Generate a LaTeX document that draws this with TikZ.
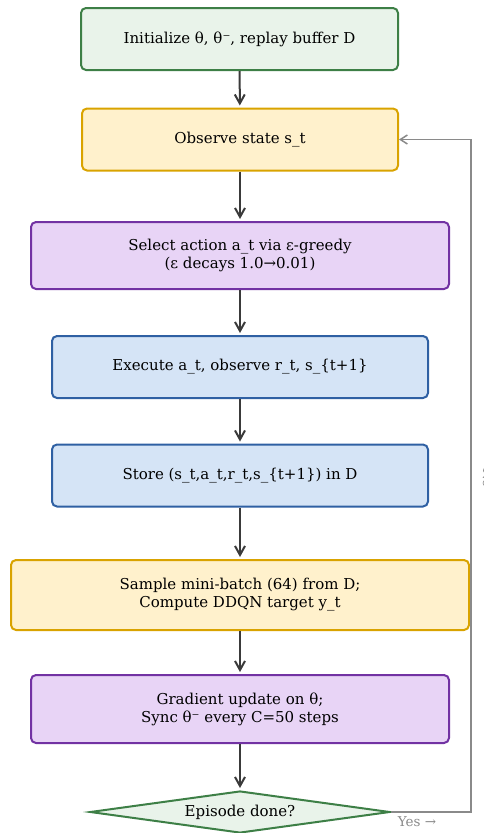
\documentclass[tikz,border=0pt]{standalone}
\usepackage{fontspec}
\setmainfont{DejaVu Serif}
\usetikzlibrary{shapes.geometric,arrows.meta}

\definecolor{initedge}{HTML}{3D7F46}
\definecolor{initfill}{HTML}{E9F3EA}
\definecolor{obsedge}{HTML}{D9A300}
\definecolor{obsfill}{HTML}{FFF1CC}
\definecolor{actedge}{HTML}{7232A3}
\definecolor{actfill}{HTML}{E8D4F6}
\definecolor{envedge}{HTML}{2F60A3}
\definecolor{envfill}{HTML}{D5E4F6}
\definecolor{flowgray}{HTML}{3A3A3A}
\definecolor{loopgray}{HTML}{8A8A8A}

\begin{document}
\begin{tikzpicture}[x=1pt, y=-1pt,
  font=\fontsize{15pt}{18pt}\selectfont,
  stepbox/.style={rectangle, rounded corners=5pt, line width=2pt, align=center, inner sep=0pt},
  greenbox/.style={stepbox, draw=initedge, fill=initfill},
  yellowbox/.style={stepbox, draw=obsedge, fill=obsfill},
  purplebox/.style={stepbox, draw=actedge, fill=actfill},
  bluebox/.style={stepbox, draw=envedge, fill=envfill},
  flow/.style={draw=flowgray, line width=2pt, shorten >=2pt, -{Straight Barb[length=9pt,width=10pt]}},
  loopback/.style={draw=loopgray, line width=1.5pt, -{Straight Barb[length=7pt,width=9pt]}}]

\useasboundingbox (0,0) rectangle (484,833);

%% boxes
\node[greenbox, minimum width=317pt, minimum height=62pt] (init) at (239.5,39)
  {Initialize θ, θ⁻, replay buffer D};
\node[yellowbox, minimum width=316pt, minimum height=62pt] (observe) at (240,139.5)
  {Observe state s\_t};
\node[purplebox, minimum width=418pt, minimum height=67pt] (select) at (240,255.5)
  {Select action a\_t via ε-greedy\\(ε decays 1.0→0.01)};
\node[bluebox, minimum width=376pt, minimum height=62pt] (execute) at (240,367)
  {Execute a\_t, observe r\_t, s\_\{t+1\}};
\node[bluebox, minimum width=376pt, minimum height=62pt] (store) at (240,475.5)
  {Store (s\_t,a\_t,r\_t,s\_\{t+1\}) in D};
\node[yellowbox, minimum width=458pt, minimum height=70pt] (sample) at (240,595)
  {Sample mini-batch (64) from D;\\Compute DDQN target y\_t};
\node[purplebox, minimum width=418pt, minimum height=68pt] (update) at (240,709)
  {Gradient update on θ;\\Sync θ⁻ every C=50 steps};
\node[diamond, draw=initedge, fill=initfill, line width=2pt, inner sep=0pt,
  shape aspect=7, minimum width=300pt, minimum height=42pt] (done) at (240,812)
  {Episode done?};

%% labels
\node[text=loopgray, rotate=-90, font=\fontsize{13.5pt}{16pt}\selectfont] (nolabel) at (488,478) {No};
\node[text=loopgray, font=\fontsize{13.5pt}{16pt}\selectfont] (yeslabel) at (417,822) {Yes →};

%% arrows
\draw[flow] (init) -- (observe);
\draw[flow] (observe) -- (select);
\draw[flow] (select) -- (execute);
\draw[flow] (execute) -- (store);
\draw[flow] (store) -- (sample);
\draw[flow] (sample) -- (update);
\draw[flow] (update) -- (done);

%% loop back
\coordinate (corner) at (471,812);
\draw[loopback] (done.east) -- (corner) |- (observe.east);

\end{tikzpicture}
\end{document}
